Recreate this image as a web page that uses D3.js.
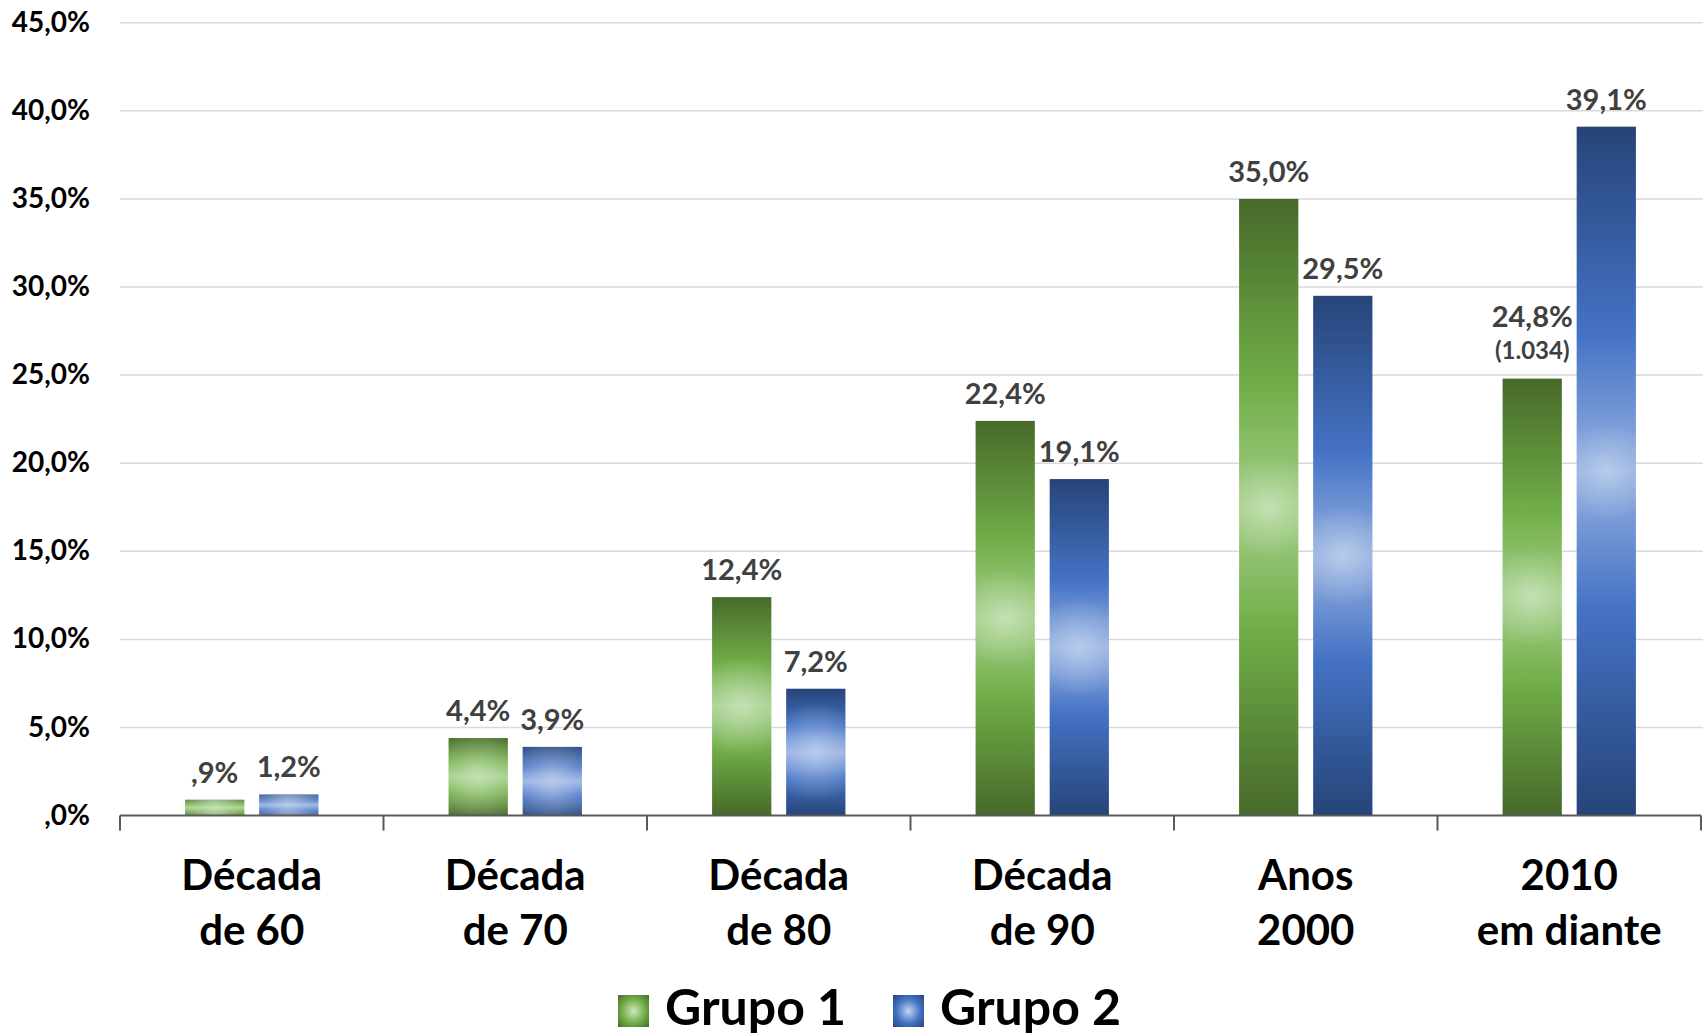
<!DOCTYPE html>
<html lang="pt">
<head>
<meta charset="UTF-8">
<title>Grupo 1 x Grupo 2 por década</title>
<style>
	body{margin:0;background:#fff;}
	svg{display:block;font-family:Lato, "Open Sans", sans-serif;font-weight:700;}
	.grid line{stroke:#d9d9d9;stroke-width:1.5px;}
	.ylab{font-size:28px;fill:#000;}
	.xlab{font-size:42px;fill:#000;}
	.val{font-size:29px;fill:#404040;}
	.note{font-size:24px;fill:#404040;}
	.leg{font-size:50px;fill:#000;}
</style>
</head>
<body>
<svg id="chart" width="1704" height="1036"></svg>
<script src="https://d3js.org/d3.v7.min.js"></script>
<script>
	// dados
	var categories = [['Década','de 60'],['Década','de 70'],['Década','de 80'],['Década','de 90'],['Anos','2000'],['2010','em diante']];
	var grupo1 = [0.9, 4.4, 12.4, 22.4, 35.0, 24.8];
	var grupo2 = [1.2, 3.9, 7.2, 19.1, 29.5, 39.1];
	var seriesNames = ['Grupo 1','Grupo 2'];
	var yTicks = [0, 5, 10, 15, 20, 25, 30, 35, 40, 45];
	var notes = {g1_5: '(1.034)'}; // nota extra sob o rótulo

	var svg = d3.select('#chart');
	var plotLeft = 120, plotRight = 1701, plotTop = 22.7, plotBottom = 815.6;

	var x0 = d3.scaleBand().domain(d3.range(categories.length)).range([plotLeft, plotRight]);
	var x1 = d3.scaleBand().domain([0,1])
		.range([x0.bandwidth()*0.247, x0.bandwidth()*0.753]).paddingInner(0.2);
	var y = d3.scaleLinear().domain([0,45]).range([plotBottom, plotTop]);

	// formato estilo Excel: ",9%" sem zero à esquerda
	function fmt(v){
		var s = d3.format('.1f')(v).replace('.', ',');
		if (s.indexOf('0,') === 0) s = s.slice(1);
		return s + '%';
	}

	// gradientes
	var defs = svg.append('defs');
	var palettes = [
		{id:'g1', dark:'#47692a', mid:'#70ad47', light:'#a3ce88', spot:'#cfe6c1'},
		{id:'g2', dark:'#264478', mid:'#4472c4', light:'#94b0e0', spot:'#c3d3ee'}
	];
	palettes.forEach(function(p){
		var lg = defs.append('linearGradient').attr('id', p.id+'lin')
			.attr('x1',0).attr('y1',0).attr('x2',0).attr('y2',1);
		[[0,p.dark],[0.3,p.mid],[0.5,p.light],[0.7,p.mid],[1,p.dark]].forEach(function(s){
			lg.append('stop').attr('offset', s[0]).attr('stop-color', s[1]);
		});
	});

	// grade
	svg.append('g').attr('class','grid')
		.selectAll('line').data(yTicks.slice(1)).enter().append('line')
		.attr('x1', plotLeft).attr('x2', plotRight + 2)
		.attr('y1', d => y(d)).attr('y2', d => y(d));

	// rótulos do eixo y
	svg.append('g').selectAll('text').data(yTicks).enter().append('text')
		.attr('class','ylab')
		.attr('x', 90).attr('y', d => y(d) + 9)
		.attr('text-anchor','end')
		.text(d => fmt(d));

	// barras
	var groups = svg.append('g').selectAll('g').data(categories).enter().append('g')
		.attr('transform', (d,i) => 'translate(' + x0(i) + ',0)');

	groups.each(function(d, i){
		var g = d3.select(this);
		var vals = [grupo1[i], grupo2[i]];
		vals.forEach(function(v, s){
			var p = palettes[s], id = p.id;
			var bx = x1(s), bw = x1.bandwidth(), by = y(v), bh = y(0) - y(v);
			// brilho central circular, um por barra
			var rg = defs.append('radialGradient').attr('id', id + 'rad' + i)
				.attr('gradientUnits','userSpaceOnUse')
				.attr('cx', x0(i) + bx + bw/2).attr('cy', by + bh/2).attr('r', bw * 0.85);
			rg.append('stop').attr('offset',0).attr('stop-color',p.spot).attr('stop-opacity',0.75);
			rg.append('stop').attr('offset',0.45).attr('stop-color',p.spot).attr('stop-opacity',0.35);
			rg.append('stop').attr('offset',1).attr('stop-color',p.spot).attr('stop-opacity',0);
			g.append('rect').attr('x', bx).attr('y', by).attr('width', bw).attr('height', bh)
				.attr('fill', 'url(#' + id + 'lin)');
			g.append('rect').attr('x', bx).attr('y', by).attr('width', bw).attr('height', bh)
				.attr('transform', 'translate(' + (-x0(i)) + ',0)')
				.attr('x', x0(i) + bx)
				.attr('fill', 'url(#' + id + 'rad' + i + ')');
			var note = notes[id + '_' + i];
			g.append('text').attr('class','val')
				.attr('x', bx + bw/2).attr('y', by - (note ? 52 : 17))
				.attr('text-anchor','middle').text(fmt(v));
			if (note) {
				g.append('text').attr('class','note')
					.attr('x', bx + bw/2).attr('y', by - 20)
					.attr('text-anchor','middle').text(note);
			}
		});
		// rótulo da categoria
		g.append('text').attr('class','xlab')
			.attr('x', x0.bandwidth()/2).attr('y', 890)
			.attr('text-anchor','middle').text(d[0]);
		g.append('text').attr('class','xlab')
			.attr('x', x0.bandwidth()/2).attr('y', 945)
			.attr('text-anchor','middle').text(d[1]);
	});

	// eixo x
	svg.append('line').attr('x1', plotLeft).attr('x2', plotRight)
		.attr('y1', plotBottom).attr('y2', plotBottom)
		.attr('stroke','#595959').attr('stroke-width',2);
	svg.append('g').selectAll('line').data(d3.range(categories.length + 1)).enter().append('line')
		.attr('x1', d => d < categories.length ? x0(d) : plotRight)
		.attr('x2', d => d < categories.length ? x0(d) : plotRight)
		.attr('y1', plotBottom).attr('y2', plotBottom + 15)
		.attr('stroke','#595959').attr('stroke-width',2);

	// legenda
	var legX = [618, 893];
	seriesNames.forEach(function(name, s){
		var id = palettes[s].id;
		var lr = defs.append('radialGradient').attr('id', id + 'leg')
			.attr('cx',0.5).attr('cy',0.5).attr('r',0.7);
		lr.append('stop').attr('offset',0).attr('stop-color', palettes[s].spot);
		lr.append('stop').attr('offset',0.55).attr('stop-color', palettes[s].mid);
		lr.append('stop').attr('offset',1).attr('stop-color', palettes[s].dark);
		svg.append('rect').attr('x', legX[s]).attr('y', 995).attr('width', 31).attr('height', 32)
			.attr('fill', 'url(#' + id + 'leg)');
		svg.append('text').attr('class','leg')
			.attr('x', legX[s] + 47).attr('y', 1025).text(name);
	});
</script>
</body>
</html>
